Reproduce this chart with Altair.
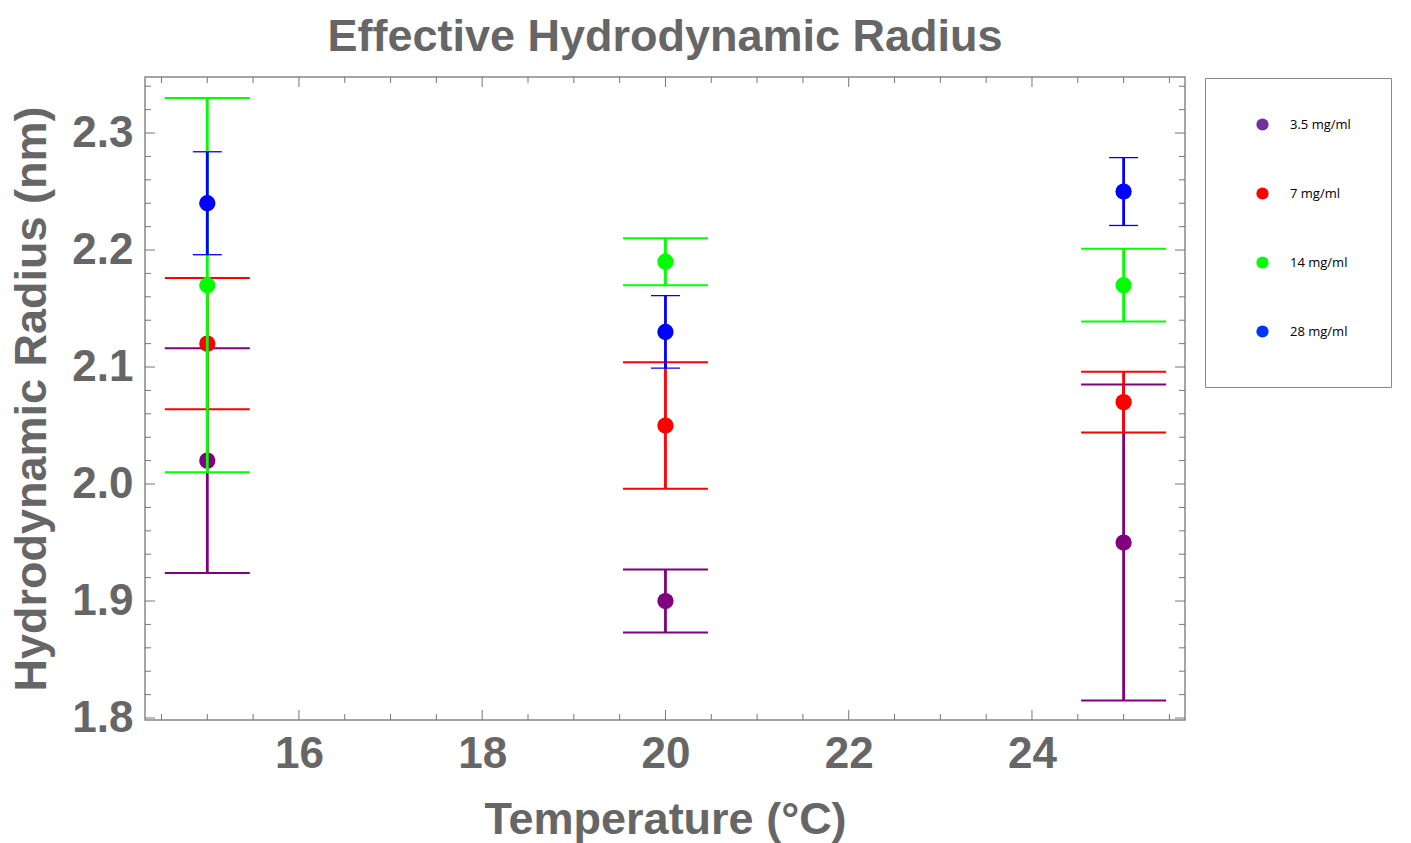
import altair as alt
import pandas as pd

# ---------------- data ----------------
temps = [15, 20, 25]
series = ["3.5 mg/ml", "7 mg/ml", "14 mg/ml", "28 mg/ml"]

radius_3_5 = [2.02, 1.90, 1.95]
error_3_5 = [0.096, 0.027, 0.135]
radius_7 = [2.12, 2.05, 2.07]
error_7 = [0.056, 0.054, 0.026]
radius_14 = [2.17, 2.19, 2.17]
error_14 = [0.160, 0.020, 0.031]
radius_28 = [2.24, 2.13, 2.25]
error_28 = [0.044, 0.031, 0.029]

y_major = [1.8, 1.9, 2.0, 2.1, 2.2, 2.3]
y_minor = [1.82, 1.84, 1.86, 1.88, 1.92, 1.94, 1.96, 1.98, 2.02, 2.04, 2.06, 2.08,
           2.12, 2.14, 2.16, 2.18, 2.22, 2.24, 2.26, 2.28, 2.32, 2.34]
x_major = [16, 18, 20, 22, 24]
x_minor = [14.5, 15, 15.5, 16.5, 17, 17.5, 18.5, 19, 19.5, 20.5, 21, 21.5,
           22.5, 23, 23.5, 24.5, 25, 25.5]

# ---------------- styles ----------------
plot_colors = ["#800080", "#FF0000", "#00FF00", "#0000FF"]
legend_colors = ["#7030A0", "#FF0000", "#00FF00", "#0033FF"]
cap_sizes = [85, 85, 85, 29]
cap_thick = [2, 2, 2, 1.3]
W, H = 1040, 643
GRAY = "#666666"
TICK = "#777777"
FONT = "Liberation Sans"

all_r = [radius_3_5, radius_7, radius_14, radius_28]
all_e = [error_3_5, error_7, error_14, error_28]
rows = []
for s, rs, es in zip(series, all_r, all_e):
    for t, r, e in zip(temps, rs, es):
        rows.append({"series": s, "T": t, "R": r, "lo": r - e, "hi": r + e})
df = pd.DataFrame(rows)

xscale = alt.Scale(domain=[14.32, 25.67], nice=False, zero=False)
yscale = alt.Scale(domain=[1.7983, 2.3479], nice=False, zero=False)

xaxis = alt.Axis(values=x_major, format="d", title="Temperature (°C)",
                 labelFont=FONT, labelFontSize=44, labelFontWeight="bold", labelColor=GRAY,
                 titleFont=FONT, titleFontSize=45, titleFontWeight="bold", titleColor=GRAY,
                 ticks=False, domain=False, grid=False, labelPadding=12, titlePadding=21,
                 labelOverlap=False)
yaxis = alt.Axis(values=y_major, format=".1f", title="Hydrodynamic Radius (nm)",
                 labelFont=FONT, labelFontSize=44, labelFontWeight="bold", labelColor=GRAY,
                 titleFont=FONT, titleFontSize=45, titleFontWeight="bold", titleColor=GRAY,
                 ticks=False, domain=False, grid=False, labelPadding=12, titlePadding=17,
                 labelOverlap=False)


def X(field):
    return alt.X(field, type="quantitative", scale=xscale, axis=xaxis)


def Y(field):
    return alt.Y(field, type="quantitative", scale=yscale, axis=yaxis)


base = alt.Chart(df)

legend_layer = base.mark_circle(size=180, opacity=1).encode(
    x=X("T"),
    y=Y("R"),
    color=alt.Color("series:N", scale=alt.Scale(domain=series, range=legend_colors),
                    legend=alt.Legend(title="\u00a0" * 140, titleOrient="bottom", titleFontSize=6,
                                      titlePadding=2, titleColor="white",
                                      orient="none", legendX=1060, legendY=1,
                                      padding=40, strokeColor="#888888", fillColor="white",
                                      symbolType="circle", symbolSize=150, symbolOffset=11,
                                      symbolStrokeWidth=0, symbolOpacity=1,
                                      labelFont="Open Sans", labelFontSize=13, labelColor="black",
                                      labelOffset=21, rowPadding=55)),
)

layers = [legend_layer]


def tick_layer(values, axis_ch, length, side):
    d = alt.Chart(pd.DataFrame({"v": values}))
    m = d.mark_rule(color=TICK, strokeWidth=1)
    if axis_ch == "y":
        if side == "left":
            return m.encode(y=Y("v"), x=alt.value(0), x2=alt.value(length))
        return m.encode(y=Y("v"), x=alt.value(W), x2=alt.value(W - length))
    if side == "bottom":
        return m.encode(x=X("v"), y=alt.value(H), y2=alt.value(H - length))
    return m.encode(x=X("v"), y=alt.value(0), y2=alt.value(length))


for side in ["left", "right"]:
    layers.append(tick_layer(y_major, "y", 10, side))
    layers.append(tick_layer(y_minor, "y", 6, side))
for side in ["bottom", "top"]:
    layers.append(tick_layer(x_major, "x", 10, side))
    layers.append(tick_layer(x_minor, "x", 6, side))

for i, s in enumerate(series):
    sub = base.transform_filter(alt.datum.series == s)
    bar = sub.mark_rule(color=plot_colors[i], strokeWidth=2.8).encode(
        x=X("T"), y=Y("lo"), y2="hi:Q")
    cap_lo = sub.mark_tick(orient="horizontal", color=plot_colors[i], size=cap_sizes[i],
                           thickness=cap_thick[i], opacity=1).encode(x=X("T"), y=Y("lo"))
    cap_hi = sub.mark_tick(orient="horizontal", color=plot_colors[i], size=cap_sizes[i],
                           thickness=cap_thick[i], opacity=1).encode(x=X("T"), y=Y("hi"))
    pt = sub.mark_circle(size=265, color=plot_colors[i], opacity=1).encode(x=X("T"), y=Y("R"))
    layers += [bar, cap_lo, cap_hi, pt]

chart = alt.layer(*layers).properties(
    width=W, height=H,
    title=alt.TitleParams("Effective Hydrodynamic Radius", font=FONT, fontSize=45,
                          fontWeight="bold", color=GRAY, anchor="middle",
                          baseline="bottom", offset=22, dy=50),
    autosize=alt.AutoSizeParams(type="none"),
    padding={"left": 145, "top": 77, "right": 226, "bottom": 123},
    background="white",
).configure_view(stroke="#888888", strokeWidth=1.5)

chart.save("out.html", embed_options={"renderer": "svg", "actions": False})
